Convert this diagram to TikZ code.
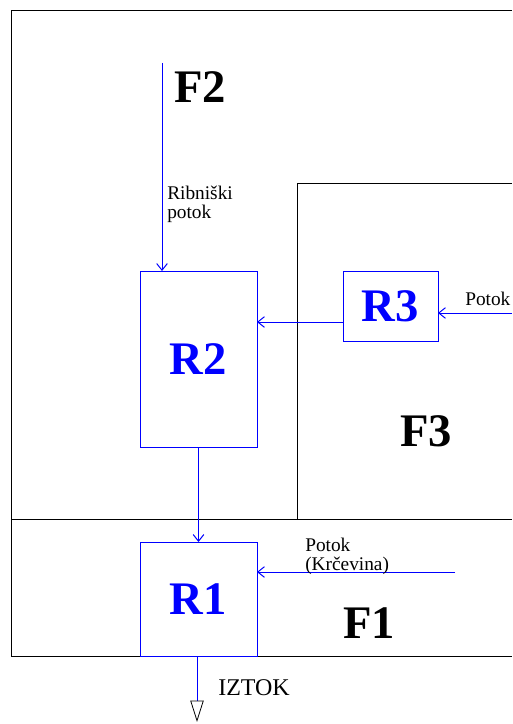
\documentclass[tikz,border=0pt]{standalone}
\usepackage{fontspec}
\setmainfont{Liberation Serif}
\usepackage{tikz}
\usetikzlibrary{positioning,arrows.meta,calc}

\begin{document}
\begin{tikzpicture}[
  x=0.75pt, y=-0.75pt,
  frame/.style={draw=black, line width=0.7pt},
  res/.style={draw=blue, text=blue, line width=0.75pt, inner sep=0pt, outer sep=0pt,
              font=\bfseries\fontsize{35}{40}\selectfont},
  zone/.style={inner sep=0pt, anchor=base west, font=\bfseries\fontsize{35}{40}\selectfont},
  lbl/.style={inner sep=0pt, align=left, font=\fontsize{14.5}{14}\selectfont},
  flow/.style={-{Straight Barb[length=5pt, width=8pt]}, blue, line width=0.75pt}
]
  \useasboundingbox (0,0) rectangle (512,724);

  % Catchment areas
  \draw[frame] (512,10) -- (11,10) -- (11,656) -- (512,656);
  \draw[frame] (11,519) -- (512,519);
  \draw[frame] (512,183) -- (297,183) -- (297,519);

  \node[zone] (f2) at (174,103) {F2};
  \node[zone] (f3) at (400,446) {F3};
  \node[zone] (f1) at (343,638) {F1};

  % Reservoirs
  \node[res, minimum width=87.75pt, minimum height=132pt] (r2) at (198.5,359) {R2};
  \node[res, minimum width=71.25pt, minimum height=52.5pt] (r3) at (390.5,306) {R3};
  \node[res, minimum width=87.75pt, minimum height=85.5pt] (r1) at (198.5,599) {R1};

  % Inflows
  \coordinate (ribsrc) at (162,63);
  \draw[flow] (ribsrc) -- (ribsrc |- r2.north);
  \node[lbl, anchor=north west] (rib) at (167,186) {Ribniški\\potok};

  \coordinate (potsrc) at (512,313);
  \draw[flow] (potsrc) -- (potsrc -| r3.east);
  \node[lbl, anchor=base west] (pot) at (465,305) {Potok};

  \coordinate (r3out) at ($(r3.west)+(0,16)$);
  \draw[flow] (r3out) -- (r3out -| r2.east);

  \draw[flow] (r2.south) -- (r1.north);

  \coordinate (krcsrc) at (455,572);
  \draw[flow] (krcsrc) -- (krcsrc -| r1.east);
  \node[lbl, anchor=north west] (krc) at (305,538) {Potok\\(Krčevina)};

  % Outflow
  \coordinate (out) at (197,722);
  \draw[blue, line width=0.75pt,
        -{Triangle[open, length=16pt, width=10pt, color=black, line width=0.6pt]}]
    (out |- r1.south) -- (out);
  \node[inner sep=0pt, anchor=base west, font=\fontsize{18}{18}\selectfont] (iztok) at (218,695) {IZTOK};
\end{tikzpicture}
\end{document}
